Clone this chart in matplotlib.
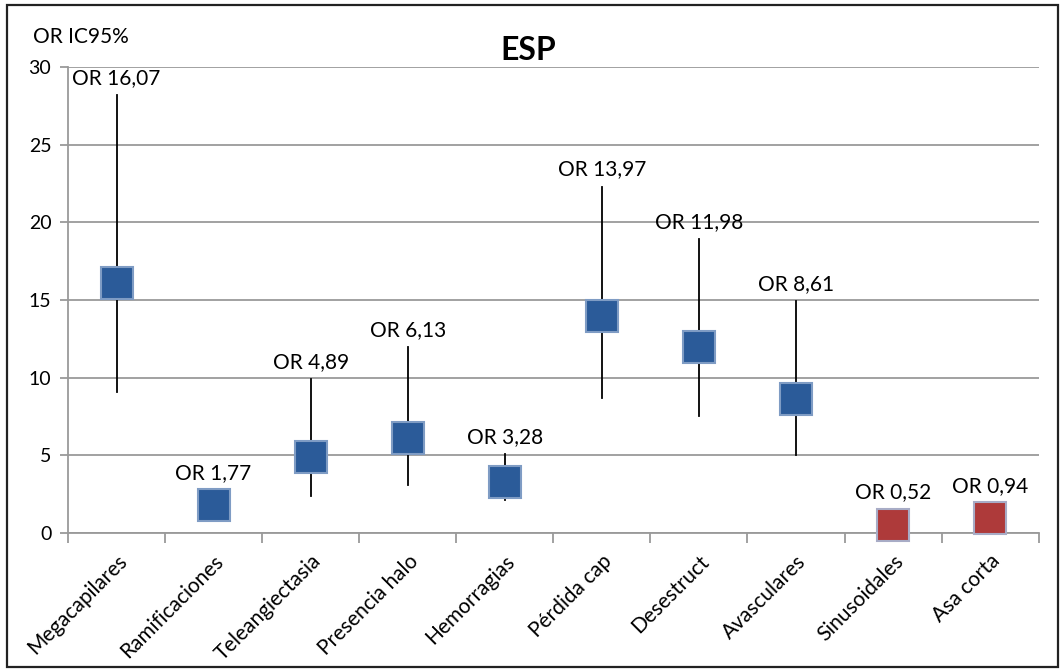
import matplotlib.pyplot as plt
import matplotlib.transforms as mtransforms
import numpy as np
from matplotlib.patches import Rectangle

# Odds ratios with 95% CI
categories = ["Megacapilares", "Ramificaciones", "Teleangiectasia", "Presencia halo",
              "Hemorragias", "Pérdida cap", "Desestruct", "Avasculares",
              "Sinusoidales", "Asa corta"]
odds_ratio = [16.07, 1.77, 4.89, 6.13, 3.28, 13.97, 11.98, 8.61, 0.52, 0.94]
ci_low = [9.1, np.nan, 2.4, 3.1, 2.1, 8.7, 7.5, 5.0, np.nan, np.nan]
ci_high = [28.2, np.nan, 9.9, 12.0, 5.1, 22.3, 18.9, 14.9, np.nan, np.nan]
labels = ["OR 16,07", "OR 1,77", "OR 4,89", "OR 6,13", "OR 3,28",
          "OR 13,97", "OR 11,98", "OR 8,61", "OR 0,52", "OR 0,94"]

plt.rcParams['font.family'] = ['Lato', 'DejaVu Sans']

fig = plt.figure(figsize=(10.62, 6.69), dpi=100)
ax = fig.add_axes([0.064, 0.2033, 0.914, 0.6967])

x = np.arange(len(categories))
grid_c = '#9a9a9a'

# confidence interval lines
for xi, lo, hi in zip(x, ci_low, ci_high):
    if not np.isnan(lo):
        ax.plot([xi, xi], [lo, hi], color='black', lw=1.3, zorder=3)

# markers: blue for OR > 1, red for OR < 1
for xi, v in zip(x, odds_ratio):
    if v >= 1.5:
        face, edge = '#2B5B99', '#7f9cc4'
    else:
        face, edge = '#AE3A3A', '#a8acc6'
    ax.plot(xi, v, marker='s', markersize=23, markerfacecolor=face,
            markeredgecolor=edge, markeredgewidth=1.5, zorder=4, clip_on=False)

# data labels above the CI top (or above the marker when no CI is drawn)
for xi, v, hi, lab in zip(x, odds_ratio, ci_high, labels):
    top = hi if not np.isnan(hi) else v + 1.0
    ax.annotate(lab, (xi, top), xytext=(0, 5), textcoords='offset points',
                ha='center', va='bottom', fontsize=15, color='black', zorder=5)

ax.set_xlim(-0.5, len(categories) - 0.5)
ax.set_ylim(0, 30)
ax.set_yticks([0, 5, 10, 15, 20, 25, 30])
ax.yaxis.grid(True, color=grid_c, lw=1.3)
ax.set_axisbelow(True)

ax.set_xticks(np.arange(-0.5, len(categories), 1.0))
ax.set_xticklabels([])
ax.set_xticks(x, minor=True)
ax.set_xticklabels(categories, minor=True, rotation=45, ha='right', va='top',
                   rotation_mode='anchor', fontsize=15)
shift = mtransforms.ScaledTranslation(6 / 100, 0, fig.dpi_scale_trans)
for t in ax.xaxis.get_minorticklabels():
    t.set_transform(t.get_transform() + shift)
ax.tick_params(axis='x', which='major', length=7, color=grid_c, width=1.3)
ax.tick_params(axis='x', which='minor', length=0, pad=13)
ax.tick_params(axis='y', length=6, color=grid_c, width=1.3, labelsize=14, pad=6)

for s in ['top', 'right']:
    ax.spines[s].set_visible(False)
for s in ['left', 'bottom']:
    ax.spines[s].set_color(grid_c)
    ax.spines[s].set_linewidth(1.3)

fig.text(0.497, 0.925, "ESP", fontsize=23, fontweight='bold', ha='center', va='center')
fig.text(0.031, 0.945, "OR IC95%", fontsize=15, ha='left', va='center')

# outer chart frame
fig.patches.append(Rectangle((0.007, 0.003), 0.989, 0.989, transform=fig.transFigure,
                             fill=False, edgecolor='#222222', lw=1.6))

fig.savefig("out.png", dpi=100)
